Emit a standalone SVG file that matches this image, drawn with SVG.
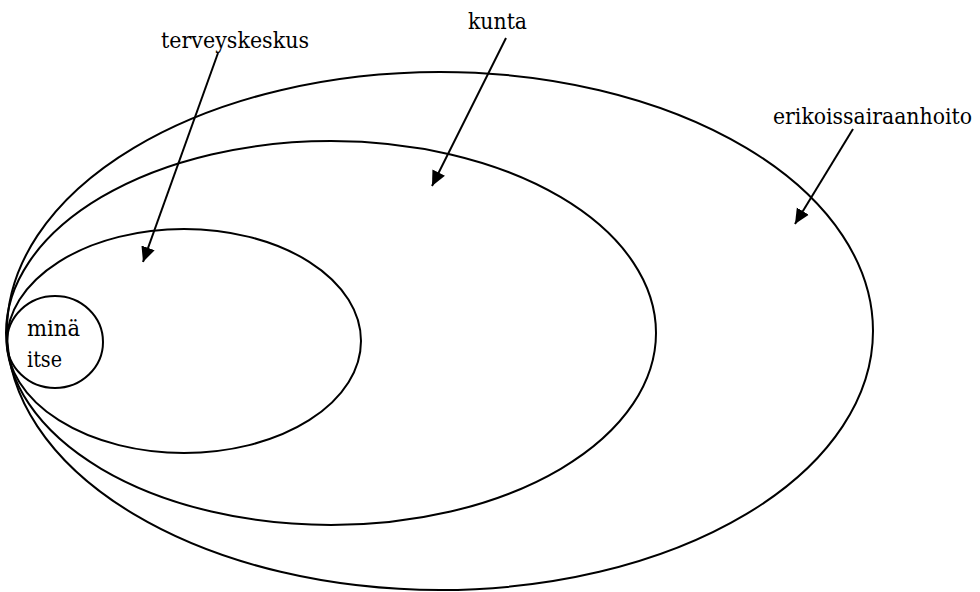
<svg xmlns="http://www.w3.org/2000/svg" width="980" height="592" viewBox="0 0 980 592">
<style>
.o{fill:none;stroke:#000;stroke-width:2}
.t{font-family:"DejaVu Serif",serif;font-size:22px;fill:#000}
.c{stroke:#000;stroke-width:2;fill:none}
</style>
<defs>
<marker id="ah" markerUnits="userSpaceOnUse" markerWidth="16" markerHeight="16" viewBox="0 0 16 16" refX="15" refY="8" orient="auto">
<path d="M0,1 L15,8 L0,15 Z" fill="#000"/>
</marker>
</defs>
<rect width="980" height="592" fill="#fff"/>
<g id="erikoissairaanhoito"><ellipse class="o" cx="440" cy="331" rx="433" ry="259"/></g>
<g id="kunta"><ellipse class="o" cx="331" cy="333" rx="325" ry="192"/></g>
<g id="terveyskeskus"><ellipse class="o" cx="184" cy="341" rx="177" ry="112"/></g>
<g id="mina"><ellipse class="o" cx="55" cy="342" rx="48" ry="46"/>
<text class="t" x="27" y="336" textLength="53" lengthAdjust="spacingAndGlyphs">minä</text>
<text class="t" x="27" y="367" textLength="35" lengthAdjust="spacingAndGlyphs">itse</text></g>
<g id="labels">
<text class="t" x="161" y="48" textLength="148" lengthAdjust="spacingAndGlyphs">terveyskeskus</text>
<text class="t" x="468" y="29" textLength="59" lengthAdjust="spacingAndGlyphs">kunta</text>
<text class="t" x="773" y="124" font-size="20" textLength="199" lengthAdjust="spacingAndGlyphs">erikoissairaanhoito</text>
</g>
<g id="connectors">
<line class="c" x1="218" y1="53" x2="143" y2="262" marker-end="url(#ah)"/>
<line class="c" x1="506" y1="38" x2="432" y2="186" marker-end="url(#ah)"/>
<line class="c" x1="853" y1="129" x2="795" y2="224" marker-end="url(#ah)"/>
</g>
</svg>
